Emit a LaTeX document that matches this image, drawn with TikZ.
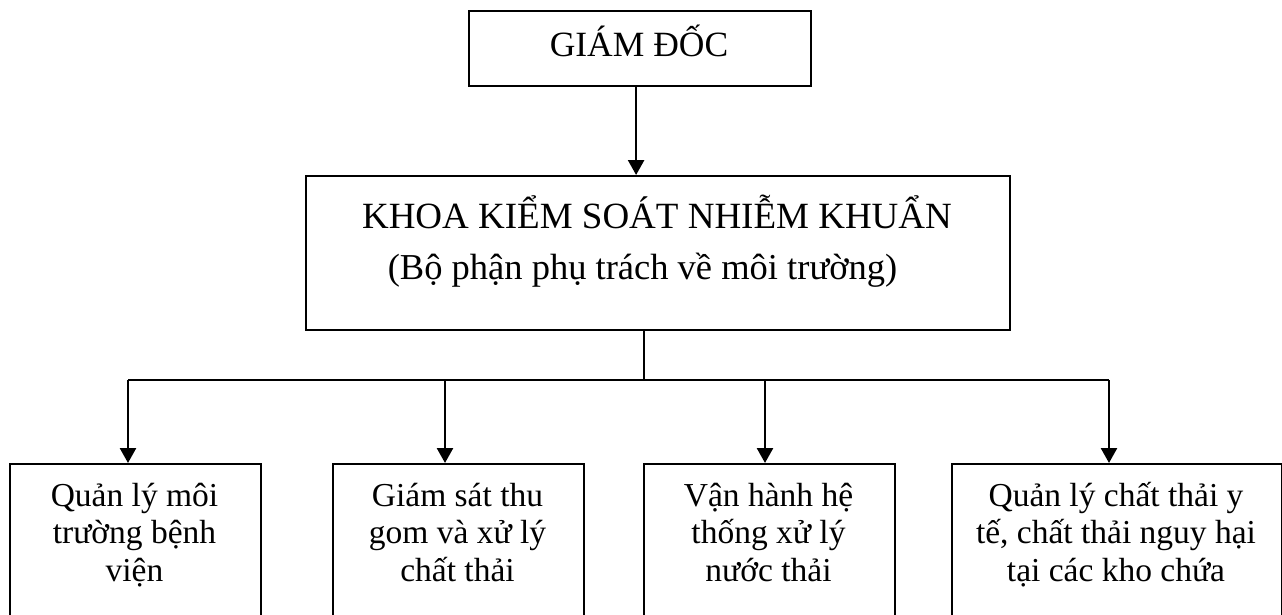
\documentclass[tikz,border=0pt]{standalone}
\usepackage{fontspec}
\setmainfont{Liberation Serif}
\usetikzlibrary{arrows.meta}
\begin{document}
\begin{tikzpicture}[x=1pt,y=-1pt,
  box/.style={draw, line width=2.2pt, inner sep=0pt, anchor=north west},
  link/.style={line width=2.2pt},
  down/.style={line width=2.6pt, -{Triangle[width=16pt,length=15pt]}},
  lbl/.style={anchor=base, align=center, inner sep=0pt},
  big/.style={font=\fontsize{35.5}{40}\selectfont},
  head/.style={font=\fontsize{37}{42}\selectfont},
  sub/.style={font=\fontsize{36.5}{40}\selectfont},
  unit/.style={font=\fontsize{33.5}{37.5}\selectfont}]
\useasboundingbox (0,0) rectangle (1282,615);
\clip (0,0) rectangle (1282,615);

% boxes
\node[box, minimum width=342pt, minimum height=75pt] (gd) at (468,10) {};
\node[box, minimum width=704pt, minimum height=154pt] (kh) at (305,175) {};
\node[box, minimum width=251pt, minimum height=170pt] (u1) at (9,463) {};
\node[box, minimum width=251pt, minimum height=170pt] (u2) at (332,463) {};
\node[box, minimum width=251pt, minimum height=170pt] (u3) at (643,463) {};
\node[box, minimum width=330pt, minimum height=170pt] (u4) at (951,463) {};

% texts (base anchor = baseline of the last line)
\node[lbl, big] (tgd) at (639,57) {GIÁM ĐỐC};
\node[lbl, head] (tkh) at (657,228) {KHOA KIỂM SOÁT NHIỄM KHUẨN};
\node[lbl, sub] (tkh2) at (642.5,279) {(Bộ phận phụ trách về môi trường)};
\node[lbl, unit] (t1) at (134.5,581) {Quản lý môi\\trường bệnh\\viện};
\node[lbl, unit] (t2) at (457.5,581) {Giám sát thu\\gom và xử lý\\chất thải};
\node[lbl, unit] (t3) at (768.5,581) {Vận hành hệ\\thống xử lý\\nước thải};
\node[lbl, unit] (t4) at (1116,581) {Quản lý chất thải y\\tế, chất thải nguy hại\\tại các kho chứa};

% connectors
\draw[down] ([xshift=-4pt]gd.south) -- ([xshift=-4pt]gd.south |- kh.north);
\draw[link] ([xshift=-14pt]kh.south) -- ++(0,49) coordinate (hub);
\coordinate (b1) at (128,0);
\coordinate (b2) at (445,0);
\coordinate (b3) at (765,0);
\coordinate (b4) at (1109,0);
\draw[link] (b1 |- hub) -- (b4 |- hub);
\draw[down] (b1 |- hub) -- (b1 |- u1.north);
\draw[down] (b2 |- hub) -- (b2 |- u2.north);
\draw[down] (b3 |- hub) -- (b3 |- u3.north);
\draw[down] (b4 |- hub) -- (b4 |- u4.north);
\end{tikzpicture}
\end{document}
